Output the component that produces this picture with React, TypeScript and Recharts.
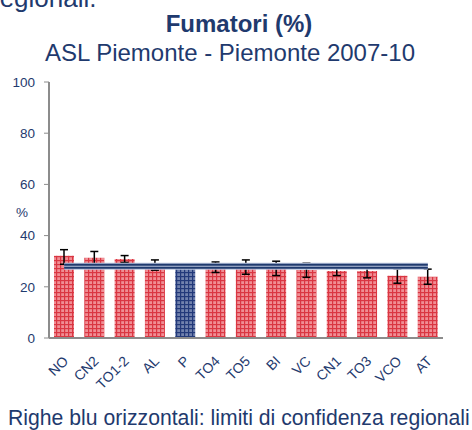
import { Bar, Cell, ComposedChart, ErrorBar, Line, XAxis, YAxis } from 'recharts'

const asl = ['NO', 'CN2', 'TO1-2', 'AL', 'P', 'TO4', 'TO5', 'BI', 'VC', 'CN1', 'TO3', 'VCO', 'AT']
const fumatori = [32.1, 31.3, 30.9, 28.3, 28.0, 27.8, 27.7, 27.1, 26.6, 26.2, 26.2, 24.3, 23.9]
const icInf = [28.8, 28.1, 29.5, 26.5, 27.4, 25.6, 24.9, 24.4, 23.7, 24.4, 23.5, 21.4, 21.0]
const icSup = [34.5, 33.8, 32.2, 30.5, 28.6, 29.7, 30.5, 30.0, 29.2, 28.2, 28.9, 27.0, 26.9]
const limitiRegionali = [27.4, 28.6]
const yTicks = [0, 20, 40, 60, 80, 100]

const navy = '#1f3a6e'

const data = asl.map((nome, i) => ({
  nome,
  valore: fumatori[i],
  err: [fumatori[i] - icInf[i], icSup[i] - fumatori[i]],
  limInf: limitiRegionali[0],
  limSup: limitiRegionali[1],
}))

const XTick = ({ x, y, payload }: any) => (
  <text
    x={x + 5}
    y={y + 22}
    transform={`rotate(-45, ${x + 5}, ${y + 22})`}
    textAnchor="end"
    fill={navy}
    fontSize={14}
  >
    {payload.value}
  </text>
)

export default function App() {
  return (
    <div
      style={{
        position: 'absolute',
        left: 0,
        top: 0,
        width: 472,
        height: 430,
        background: '#fff',
        fontFamily: '"Liberation Sans", Arial, sans-serif',
        overflow: 'hidden',
      }}
    >
      <svg width={472} height={70} style={{ position: 'absolute', left: 0, top: 0 }}>
        <text x={-9} y={7} fontSize={26} fill={navy}>
          regionali.
        </text>
        <text x={239} y={32} textAnchor="middle" fontSize={24} fontWeight="bold" fill={navy}>
          Fumatori (%)
        </text>
        <text x={230} y={61} textAnchor="middle" fontSize={24} fill={navy}>
          ASL Piemonte - Piemonte 2007-10
        </text>
      </svg>
      <div style={{ position: 'absolute', left: 0, top: 0 }}>
        <ComposedChart
          width={472}
          height={430}
          data={data}
          margin={{ top: 82, right: 29, left: 9, bottom: 62 }}
          barSize={20}
        >
          <defs>
            <pattern id="quadriRossi" width="4" height="4" patternUnits="userSpaceOnUse">
              <rect width="4" height="4" fill="#f08e94" />
              <rect width="1.2" height="4" fill="#da3642" />
              <rect width="4" height="1.2" fill="#da3642" />
            </pattern>
            <pattern id="quadriBlu" width="4" height="4" patternUnits="userSpaceOnUse">
              <rect width="4" height="4" fill="#7182ae" />
              <rect width="1.2" height="4" fill="#22397a" />
              <rect width="4" height="1.2" fill="#22397a" />
            </pattern>
          </defs>
          <XAxis
            dataKey="nome"
            interval={0}
            tickLine={false}
            tickSize={0}
            axisLine={{ stroke: '#8c8c8c', strokeWidth: 2 }}
            tick={<XTick />}
          />
          <YAxis
            width={40}
            domain={[0, 100]}
            ticks={yTicks}
            tickSize={5}
            tickMargin={9}
            tickLine={{ stroke: '#8c8c8c' }}
            axisLine={{ stroke: '#8c8c8c', strokeWidth: 2 }}
            tick={{ fill: navy, fontSize: 13.5 }}
            label={{ value: '%', position: 'insideLeft', dx: 2, dy: 2, fill: navy, fontSize: 13.5 }}
          />
          <Bar dataKey="valore" isAnimationActive={false}>
            {data.map((d) => (
              <Cell key={d.nome} fill={d.nome === 'P' ? 'url(#quadriBlu)' : 'url(#quadriRossi)'} />
            ))}
            <ErrorBar dataKey="err" width={4} stroke="#000" strokeWidth={1.5} />
          </Bar>
          <Line dataKey="limSup" stroke="#b9c3dc" strokeWidth={4} dot={false} isAnimationActive={false} />
          <Line dataKey="limInf" stroke="#b9c3dc" strokeWidth={4} dot={false} isAnimationActive={false} />
          <Line dataKey="limSup" stroke={navy} strokeWidth={2} dot={false} isAnimationActive={false} />
          <Line dataKey="limInf" stroke={navy} strokeWidth={2} dot={false} isAnimationActive={false} />
        </ComposedChart>
      </div>
      <svg width={472} height={40} style={{ position: 'absolute', left: 0, top: 395 }}>
        <text x={8} y={30} fontSize={21.2} fill={navy}>
          Righe blu orizzontali: limiti di confidenza regionali
        </text>
      </svg>
    </div>
  )
}
